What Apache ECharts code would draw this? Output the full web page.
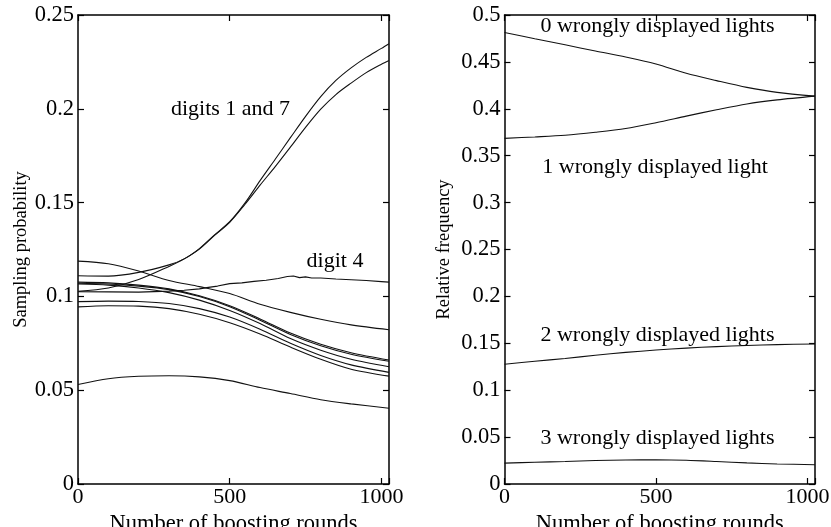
<!DOCTYPE html>
<html>
<head>
<meta charset="utf-8">
<script src="https://cdn.jsdelivr.net/npm/echarts@6/dist/echarts.min.js"></script>
<style>
html,body{margin:0;padding:0;background:#fff;}
#c{width:831px;height:527px;}
</style>
</head>
<body>
<div id="c"></div>
<script>
// ---------- Data (left panel: sampling probability per digit) ----------
const roundsGrid = [0, 100, 200, 300, 400, 500, 600, 700, 800, 900, 1025];
const rounds17 = [0, 100, 200, 300, 350, 400, 450, 500, 550, 600, 650, 700, 750, 800, 850, 900, 950, 1000, 1025];
const digit1or7a = [0.1110, 0.1108, 0.1128, 0.1168, 0.1200, 0.1255, 0.1328, 0.1398, 0.1497, 0.1617, 0.1731, 0.1846, 0.1960, 0.2065, 0.2151, 0.2218, 0.2274, 0.2322, 0.2347];
const digit1or7b = [0.1027, 0.1045, 0.1090, 0.1160, 0.1200, 0.1252, 0.1325, 0.1395, 0.1490, 0.1593, 0.1692, 0.1796, 0.1901, 0.1998, 0.2076, 0.2137, 0.2193, 0.2238, 0.2258];
const rounds4 = [0, 100, 200, 300, 350, 400, 430, 460, 500, 540, 580, 620, 660, 690, 710, 730, 750, 770, 800, 850, 900, 950, 1000, 1025];
const digit4 = [0.1025, 0.1024, 0.1023, 0.1028, 0.1033, 0.1040, 0.1048, 0.1055, 0.1068, 0.1072, 0.1080, 0.1086, 0.1095, 0.1106, 0.1109, 0.1100, 0.1104, 0.1098, 0.1098, 0.1093, 0.1089, 0.1085, 0.1079, 0.1076];
const digitTop = [0.1188, 0.1174, 0.1135, 0.1085, 0.1052, 0.1015, 0.0958, 0.0915, 0.0878, 0.0848, 0.0822];
const digitB1 = [0.1076, 0.1072, 0.1060, 0.1040, 0.1003, 0.0950, 0.0880, 0.0805, 0.0745, 0.0700, 0.0661];
const digitB2 = [0.1070, 0.1066, 0.1055, 0.1036, 0.0999, 0.0945, 0.0873, 0.0797, 0.0737, 0.0692, 0.0654];
const digitB3 = [0.1066, 0.1060, 0.1045, 0.1020, 0.0980, 0.0925, 0.0855, 0.0775, 0.0713, 0.0665, 0.0625];
const digitB4 = [0.0972, 0.0975, 0.0973, 0.0962, 0.0935, 0.0890, 0.0825, 0.0750, 0.0685, 0.0635, 0.0595];
const digitB5 = [0.0944, 0.0950, 0.0948, 0.0935, 0.0905, 0.0860, 0.0800, 0.0730, 0.0665, 0.0612, 0.0575];
const digitLow = [0.0530, 0.0561, 0.0574, 0.0577, 0.0571, 0.0551, 0.0514, 0.0482, 0.0449, 0.0427, 0.0404];

// ---------- Data (right panel: relative frequency of wrongly displayed lights) ----------
const wrong0 = [0.4813, 0.4747, 0.4682, 0.4616, 0.4553, 0.4478, 0.4378, 0.4300, 0.4228, 0.4175, 0.4135];
const wrong1 = [0.3685, 0.3700, 0.3718, 0.3750, 0.3790, 0.3852, 0.3922, 0.3990, 0.4052, 0.4095, 0.4135];
const wrong2 = [0.1277, 0.1308, 0.1338, 0.1372, 0.1403, 0.1428, 0.1449, 0.1465, 0.1477, 0.1486, 0.1493];
const wrong3 = [0.0223, 0.0232, 0.0240, 0.0250, 0.0256, 0.0258, 0.0253, 0.0240, 0.0225, 0.0214, 0.0205];

// ---------- Labels ----------
const xTitle = 'Number of boosting rounds';
const yTitleLeft = 'Sampling probability';
const yTitleRight = 'Relative frequency';
const annotations = ['digits 1 and 7', 'digit 4', '0 wrongly displayed lights', '1 wrongly displayed light', '2 wrongly displayed lights', '3 wrongly displayed lights'];

// ---------- Chart ----------
const FONT = "'Liberation Serif', 'Times New Roman', serif";
const INK = '#000';
const pair = (xs, ys) => xs.map((x, i) => [x, ys[i]]);

function xAx(gridIndex, pos, labels) {
  return {
    type: 'value', gridIndex, position: pos, min: 0, max: 1025, interval: 500,
    axisLine: { show: true, onZero: false, lineStyle: { color: INK, width: 1.5 } },
    axisTick: { show: true, inside: true, length: 6, lineStyle: { color: INK, width: 1.2 } },
    axisLabel: labels ? {
      show: true, color: INK, fontFamily: FONT, fontSize: 22, margin: 2,
      formatter: v => (v % 500 === 0 ? String(v) : '')
    } : { show: false },
    splitLine: { show: false },
    name: labels ? xTitle : '', nameLocation: 'middle', nameGap: 23,
    nameTextStyle: { color: INK, fontFamily: FONT, fontSize: 22.5 }
  };
}
function yAx(gridIndex, pos, max, labels, title, gap) {
  return {
    type: 'value', gridIndex, position: pos, min: 0, max, interval: 0.05,
    axisLine: { show: true, onZero: false, lineStyle: { color: INK, width: 1.5 } },
    axisTick: { show: true, inside: true, length: 6, lineStyle: { color: INK, width: 1.2 } },
    axisLabel: labels ? { show: true, color: INK, fontFamily: FONT, fontSize: 22.5, margin: 4 } : { show: false },
    splitLine: { show: false },
    name: title || '', nameLocation: 'middle', nameGap: gap || 0,
    nameTextStyle: { color: INK, fontFamily: FONT, fontSize: 18.5 }
  };
}
function line(xi, yi, data, smooth) {
  return {
    type: 'line', xAxisIndex: xi, yAxisIndex: yi, data, showSymbol: false, symbol: 'none',
    smooth: smooth, lineStyle: { color: '#111', width: 1.1 }, silent: true, z: 3
  };
}

const chart = echarts.init(document.getElementById('c'), null, { renderer: 'canvas' });
const txt = (t, x, y) => ({
  type: 'text', x, y, silent: true, z: 10,
  style: { text: t, fill: INK, font: "22px 'Liberation Serif', serif", align: 'center', verticalAlign: 'middle' }
});

chart.setOption({
  animation: false,
  backgroundColor: '#fff',
  grid: [
    { left: 78, top: 15, width: 311, height: 469, containLabel: false, outerBoundsMode: 'none' },
    { left: 504.5, top: 15, width: 310.5, height: 469, containLabel: false, outerBoundsMode: 'none' }
  ],
  xAxis: [xAx(0, 'bottom', true), xAx(0, 'top', false), xAx(1, 'bottom', true), xAx(1, 'top', false)],
  yAxis: [
    yAx(0, 'left', 0.25, true, yTitleLeft, 47),
    yAx(0, 'right', 0.25, false),
    yAx(1, 'left', 0.5, true, yTitleRight, 51),
    yAx(1, 'right', 0.5, false)
  ],
  series: [
    line(0, 0, pair(rounds17, digit1or7a), 0.3),
    line(0, 0, pair(rounds17, digit1or7b), 0.3),
    line(0, 0, pair(rounds4, digit4), false),
    line(0, 0, pair(roundsGrid, digitTop), 0.3),
    line(0, 0, pair(roundsGrid, digitB1), 0.3),
    line(0, 0, pair(roundsGrid, digitB2), 0.3),
    line(0, 0, pair(roundsGrid, digitB3), 0.3),
    line(0, 0, pair(roundsGrid, digitB4), 0.3),
    line(0, 0, pair(roundsGrid, digitB5), 0.3),
    line(0, 0, pair(roundsGrid, digitLow), 0.3),
    line(2, 2, pair(roundsGrid, wrong0), 0.3),
    line(2, 2, pair(roundsGrid, wrong1), 0.3),
    line(2, 2, pair(roundsGrid, wrong2), 0.3),
    line(2, 2, pair(roundsGrid, wrong3), 0.3)
  ],
  graphic: [
    txt(annotations[0], 230.5, 109),
    txt(annotations[1], 335, 261),
    txt(annotations[2], 657.5, 26),
    txt(annotations[3], 655, 167),
    txt(annotations[4], 657.5, 335),
    txt(annotations[5], 657.5, 438)
  ]
});
</script>
</body>
</html>
